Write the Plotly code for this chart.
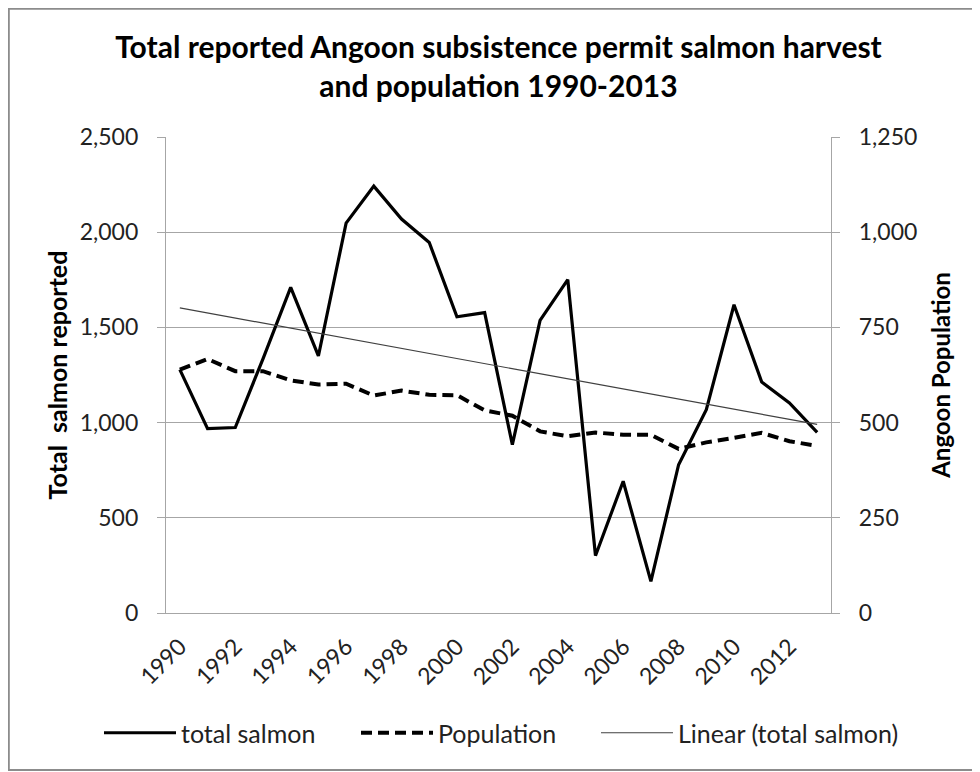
import numpy as np
import plotly.graph_objects as go

years = list(range(1990, 2014))
total_salmon = [1278, 968, 974, 1335, 1710, 1350, 2048, 2242, 2069, 1946, 1556, 1578,
                884, 1537, 1751, 301, 692, 166, 779, 1068, 1619, 1213, 1103, 949]
population = [639, 667, 635, 635, 611, 600, 602, 571, 584, 573, 572, 532,
              518, 477, 464, 474, 468, 468, 431, 448, 460, 473, 451, 439]
tick_years = [str(y) for y in range(1990, 2013, 2)]

x_idx = np.arange(len(years))
coef = np.polyfit(x_idx, np.array(total_salmon, dtype=float), 1)
trend = np.polyval(coef, x_idx)

FONT = "Lato, 'Open Sans', sans-serif"
GRID = "#a6a6a6"
TXT = "#222222"

# figure is placed at (8, 8) in the page by the body margin
W, H = 972, 764
L, R, T, B = 158, 149, 129, 159
PW, PH = W - L - R, H - T - B

fig = go.Figure()
fig.add_trace(go.Scatter(x=x_idx, y=total_salmon, name="total salmon", mode="lines",
                         line=dict(color="black", width=3.2), yaxis="y", legend="legend"))
fig.add_trace(go.Scatter(x=x_idx, y=population, name="Population", mode="lines",
                         line=dict(color="black", width=4, dash="11px,6px"), yaxis="y2",
                         legend="legend2"))
fig.add_trace(go.Scatter(x=x_idx, y=trend, name="Linear (total salmon)", mode="lines",
                         line=dict(color="#404040", width=1.2), yaxis="y", legend="legend3"))

leg_y = -(725 - (H - B)) / PH


def leg(xfig):
    return dict(orientation="h", x=(xfig - L) / PW, xanchor="left", y=leg_y, yanchor="middle",
                font=dict(size=25, family=FONT, color=TXT), itemwidth=72,
                bgcolor="rgba(0,0,0,0)")


fig.update_layout(
    width=W, height=H,
    paper_bgcolor="white", plot_bgcolor="white",
    margin=dict(l=L, r=R, t=T, b=B, autoexpand=False),
    font=dict(family=FONT, color=TXT),
    title=dict(text="<b>Total reported Angoon subsistence permit salmon harvest<br>and population 1990-2013</b>",
               x=0.5, xref="paper", xanchor="center", y=0.935, yanchor="top",
               font=dict(size=30, family=FONT, color="black")),
    xaxis=dict(range=[-0.5, 23.5], tickvals=list(range(0, 24, 2)), ticktext=tick_years,
               tickangle=-45, ticks="", showgrid=False, zeroline=False,
               showline=True, linecolor=GRID, linewidth=1.3, ticklabelstandoff=10,
               tickfont=dict(size=23, family=FONT, color=TXT)),
    xaxis2=dict(range=[-0.5, 23.5], overlaying="x", anchor="y", side="bottom",
                tickvals=[i - 0.5 for i in range(25)], showticklabels=False,
                ticks="outside", ticklen=8, tickcolor=GRID, tickwidth=1.3,
                showgrid=False, zeroline=False, showline=False),
    yaxis=dict(range=[0, 2500], dtick=500, tickformat=",d", showgrid=True, gridcolor=GRID,
               gridwidth=1.3, zeroline=False, showline=True, linecolor=GRID, linewidth=1.3,
               ticks="outside", ticklen=8, tickcolor=GRID, tickwidth=1.3, ticklabelstandoff=14,
               tickfont=dict(size=23, family=FONT, color=TXT),
               title=dict(text="<b>Total\u00a0 salmon reported</b>", standoff=4,
                          font=dict(size=25, family=FONT, color="black"))),
    yaxis2=dict(range=[0, 1250], dtick=250, tickformat=",d", overlaying="y", side="right",
                showgrid=False, zeroline=False, showline=True, linecolor=GRID, linewidth=1.3,
                ticks="outside", ticklen=8, tickcolor=GRID, tickwidth=1.3, ticklabelstandoff=14,
                tickfont=dict(size=23, family=FONT, color=TXT),
                title=dict(text="<b>Angoon Population</b>", standoff=16,
                           font=dict(size=24, family=FONT, color="black"))),
    legend=leg(91),
    legend2=leg(348),
    legend3=leg(588),
    showlegend=True,
)

# outer chart frame
fig.add_shape(type="rect", xref="paper", yref="paper",
              x0=(0.8 - L) / PW, x1=(990 - L) / PW,
              y0=((H - B) - 762) / PH, y1=((H - B) - 0.8) / PH,
              line=dict(color="#8c8c8c", width=2), fillcolor="rgba(0,0,0,0)", layer="below")

fig.write_html("out.html")
